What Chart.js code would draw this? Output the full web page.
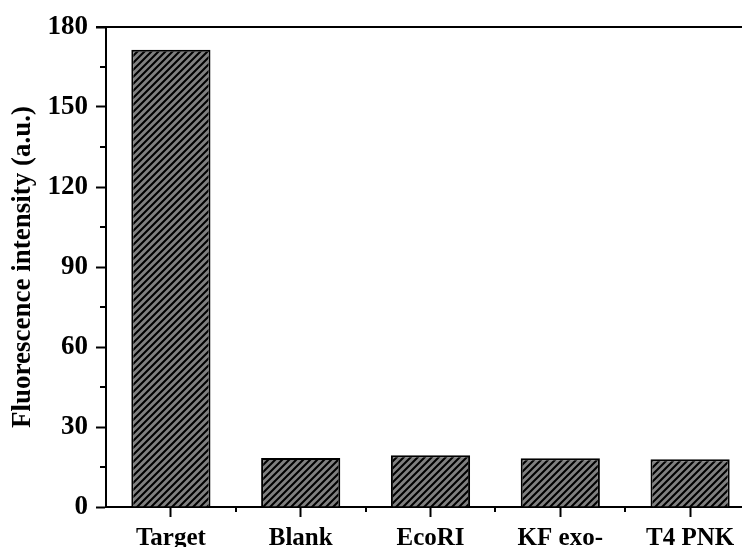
<!DOCTYPE html>
<html>
<head>
<meta charset="utf-8">
<script src="https://cdn.jsdelivr.net/npm/chart.js@4"></script>
<style>
  html, body { margin: 0; padding: 0; background: #fff; overflow: hidden; }
  #wrap { width: 760px; height: 561px; }
</style>
</head>
<body>
<div id="wrap"><canvas id="barChart"></canvas></div>
<script>
// Data
const categories = ['Target', 'Blank', 'EcoRI', 'KF exo-', 'T4 PNK'];
const intensity = [171.5, 18.4, 19.4, 18.3, 17.9];
const yTicks = [0, 30, 60, 90, 120, 150, 180];
const yMinorTicks = [15, 45, 75, 105, 135, 165];

const fontFamily = '"Liberation Serif", "Times New Roman", serif';

function makeHatch() {
    const size = 7;
    const c = document.createElement('canvas');
    c.width = size;
    c.height = size;
    const g = c.getContext('2d');
    g.fillStyle = '#808080';
    g.fillRect(0, 0, size, size);
    g.strokeStyle = '#000';
    g.lineWidth = 2.1;
    g.beginPath();
    g.moveTo(-1, size + 1); g.lineTo(size + 1, -1);
    g.moveTo(-1, 1); g.lineTo(1, -1);
    g.moveTo(size - 1, size + 1); g.lineTo(size + 1, size - 1);
    g.stroke();
    return g.createPattern(c, 'repeat');
}

// minor ticks and the top frame line
const frameExtras = {
    id: 'frameExtras',
    afterDraw(chart) {
        const ctx = chart.ctx;
        const area = chart.chartArea;
        const x = chart.scales.x;
        const y = chart.scales.y;
        const step = x.getPixelForValue(1) - x.getPixelForValue(0);
        ctx.save();
        ctx.strokeStyle = '#000';
        ctx.lineWidth = 2;
        ctx.beginPath();
        yMinorTicks.forEach(v => {
            const py = Math.round(y.getPixelForValue(v));
            ctx.moveTo(area.left, py);
            ctx.lineTo(area.left - 6, py);
        });
        for (let i = 1; i < categories.length; i++) {
            const px = Math.round(x.getPixelForValue(i) - step / 2);
            ctx.moveTo(px, area.bottom);
            ctx.lineTo(px, area.bottom + 5);
        }
        ctx.moveTo(area.left - 10, area.top);
        ctx.lineTo(chart.width, area.top);
        ctx.stroke();
        ctx.restore();
    }
};

function initializeBarChart() {
    const ctx = document.getElementById('barChart');
    new Chart(ctx, {
        type: 'bar',
        data: {
            labels: categories,
            datasets: [{
                data: intensity,
                backgroundColor: makeHatch(),
                borderColor: '#000',
                borderWidth: 2,
                barPercentage: 0.61,
                categoryPercentage: 1
            }]
        },
        options: {
            responsive: true,
            maintainAspectRatio: false,
            animation: false,
            layout: { padding: { top: 27, right: 5, left: 0, bottom: 0 } },
            plugins: { legend: { display: false }, tooltip: { enabled: false } },
            scales: {
                x: {
                    grid: { offset: false, drawOnChartArea: false, tickLength: 10, tickColor: '#000', tickWidth: 2 },
                    border: { color: '#000', width: 2 },
                    ticks: { color: '#000', padding: 7, font: { family: fontFamily, size: 25, weight: 'bold' } }
                },
                y: {
                    min: 0,
                    max: 180,
                    afterBuildTicks: scale => { scale.ticks = yTicks.map(v => ({ value: v })); },
                    afterFit: scale => { scale.width = 106; },
                    grid: { drawOnChartArea: false, tickLength: 10, tickColor: '#000', tickWidth: 2 },
                    border: { color: '#000', width: 2 },
                    ticks: { color: '#000', padding: 8, font: { family: fontFamily, size: 27, weight: 'bold' } },
                    title: {
                        display: true,
                        text: 'Fluorescence intensity (a.u.)',
                        color: '#000',
                        padding: { top: 7, bottom: 0 },
                        font: { family: fontFamily, size: 27, weight: 'bold' }
                    }
                }
            }
        },
        plugins: [frameExtras]
    });
}

document.addEventListener('DOMContentLoaded', initializeBarChart);
</script>
</body>
</html>
